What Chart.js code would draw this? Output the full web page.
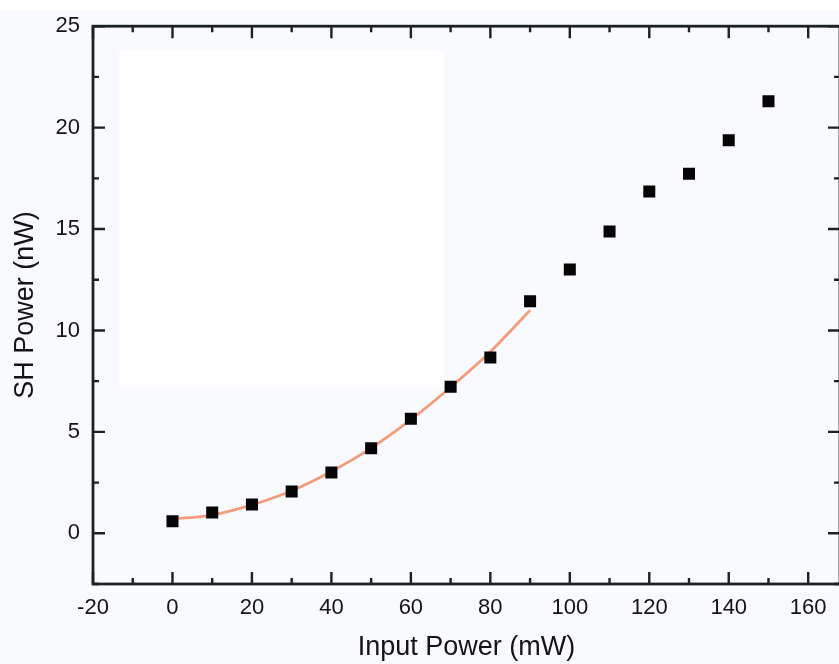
<!DOCTYPE html>
<html>
<head>
<meta charset="utf-8">
<script src="https://cdn.jsdelivr.net/npm/chart.js@4"></script>
<style>
    html, body { margin: 0; padding: 0; overflow: hidden; background: #ffffff; }
    #wrap { width: 860px; height: 664px; position: relative; }
</style>
</head>
<body>
<div id="wrap"><canvas id="sh-chart"></canvas></div>
<script>
/* SH power vs input power, with quadratic fit over the low range */

var inputPower = [0, 10, 20, 30, 40, 50, 60, 70, 80, 90, 100, 110, 120, 130, 140, 150];
var shPower    = [0.59, 1.03, 1.42, 2.06, 3.0, 4.19, 5.65, 7.22, 8.67, 11.44, 13.0, 14.88, 16.85, 17.73, 19.38, 21.3];

var fitX = [0, 10, 20, 30, 40, 50, 60, 70, 80, 90];
var fitY = [0.7, 0.9, 1.4, 2.1, 3.05, 4.2, 5.6, 7.2, 8.95, 11.0];

var xMajorTicks = [-20, 0, 20, 40, 60, 80, 100, 120, 140, 160];
var xMinorTicks = [-10, 10, 30, 50, 70, 90, 110, 130, 150];
var yMajorTicks = [0, 5, 10, 15, 20, 25];
var yMinorTicks = [-2.5, 2.5, 7.5, 12.5, 17.5, 22.5];

var FRAME = '#1a2222';
var TEXT  = '#141414';
var FONT  = '"Liberation Sans", Arial, sans-serif';

var framePlugin = {
    id: 'frame',
    beforeDraw: function(chart) {
        var ctx = chart.ctx;
        ctx.save();
        ctx.fillStyle = '#f9fafd';
        ctx.fillRect(0, 10, chart.width, chart.height - 10);
        // faint lighter panel left over from the original figure
        var xs = chart.scales.x, ys = chart.scales.y;
        ctx.fillStyle = '#fefefe';
        var px0 = xs.getPixelForValue(-13.5), px1 = xs.getPixelForValue(68.5);
        var py0 = ys.getPixelForValue(23.8), py1 = ys.getPixelForValue(7.2);
        ctx.fillRect(px0, py0, px1 - px0, py1 - py0);
        ctx.restore();
    },
    beforeDatasetsDraw: function(chart) {
        var ctx = chart.ctx;
        var a = chart.chartArea;
        var xs = chart.scales.x, ys = chart.scales.y;
        ctx.save();
        ctx.strokeStyle = FRAME;
        ctx.lineWidth = 2.8;
        ctx.strokeRect(a.left, a.top, a.right - a.left, a.bottom - a.top);

        ctx.lineWidth = 2.4;
        ctx.beginPath();
        function xt(v, len) {
            var p = xs.getPixelForValue(v);
            ctx.moveTo(p, a.bottom); ctx.lineTo(p, a.bottom - len);
            ctx.moveTo(p, a.top);    ctx.lineTo(p, a.top + len);
        }
        function yt(v, len) {
            var p = ys.getPixelForValue(v);
            ctx.moveTo(a.left, p);  ctx.lineTo(a.left + len, p);
            ctx.moveTo(a.right, p); ctx.lineTo(a.right - len, p);
        }
        xMajorTicks.forEach(function(v) { xt(v, 12); });
        xMinorTicks.forEach(function(v) { xt(v, 6); });
        yMajorTicks.forEach(function(v) { yt(v, 12); });
        yMinorTicks.forEach(function(v) { yt(v, 6); });
        ctx.stroke();
        ctx.restore();
    }
};

new Chart(document.getElementById('sh-chart'), {
    type: 'scatter',
    data: {
        datasets: [
            {
                label: 'Fit',
                data: fitX.map(function(x, i) { return { x: x, y: fitY[i] }; }),
                showLine: true,
                borderColor: '#f39c7c',
                borderWidth: 2.8,
                pointRadius: 0,
                cubicInterpolationMode: 'monotone',
                order: 2
            },
            {
                label: 'SH Power',
                data: inputPower.map(function(x, i) { return { x: x, y: shPower[i] }; }),
                pointStyle: 'rect',
                pointRadius: 8.5,
                pointHoverRadius: 8.5,
                backgroundColor: '#050505',
                borderColor: '#050505',
                borderWidth: 0,
                order: 1
            }
        ]
    },
    options: {
        responsive: true,
        maintainAspectRatio: false,
        animation: false,
        events: [],
        layout: { padding: { top: 24, right: 20, bottom: 0, left: 0 } },
        plugins: {
            legend: { display: false },
            tooltip: { enabled: false }
        },
        scales: {
            x: {
                type: 'linear',
                min: -20,
                max: 168,
                afterBuildTicks: function(s) {
                    s.ticks = xMajorTicks.map(function(v) { return { value: v }; });
                },
                afterFit: function(s) { s.height = 80; },
                grid: { display: false, drawTicks: false },
                border: { display: false },
                ticks: {
                    color: TEXT,
                    padding: 11,
                    maxRotation: 0,
                    autoSkip: false,
                    font: { family: FONT, size: 22 }
                },
                title: {
                    display: true,
                    text: 'Input Power (mW)',
                    color: TEXT,
                    padding: { top: 0, bottom: 0 },
                    font: { family: FONT, size: 27 }
                }
            },
            y: {
                type: 'linear',
                min: -2.5,
                max: 25,
                afterBuildTicks: function(s) {
                    s.ticks = yMajorTicks.map(function(v) { return { value: v }; });
                },
                afterFit: function(s) { s.width = 93; },
                grid: { display: false, drawTicks: false },
                border: { display: false },
                ticks: {
                    color: TEXT,
                    padding: 13,
                    autoSkip: false,
                    font: { family: FONT, size: 22 }
                },
                title: {
                    display: true,
                    text: 'SH Power (nW)',
                    color: TEXT,
                    padding: { top: 9, bottom: 0 },
                    font: { family: FONT, size: 27 }
                }
            }
        }
    },
    plugins: [framePlugin]
});
</script>
</body>
</html>
